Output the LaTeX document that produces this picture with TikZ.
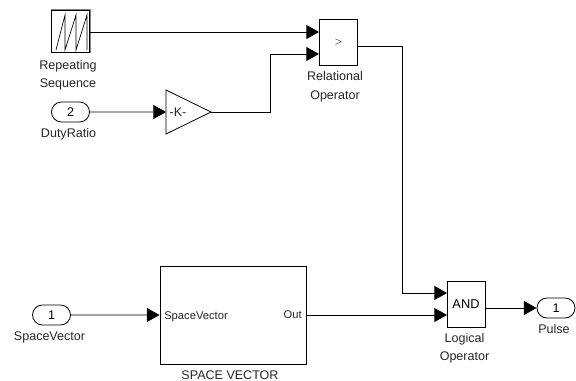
\documentclass[tikz,border=0pt]{standalone}
\usepackage{fontspec}
\setmainfont{Liberation Sans}
\usetikzlibrary{arrows.meta, calc, shapes.geometric, shapes.misc}
\tikzset{
  block/.style={draw, line width=.7pt, inner sep=0pt, fill=white},
  port/.style={draw, rounded rectangle, line width=.6pt, minimum width=28.5pt, minimum height=15pt, inner sep=0pt},
  label/.style={font=\fontsize{9.4}{13.5}\selectfont, align=center, text=black!85, inner sep=0pt},
  inner/.style={font=\fontsize{8.4}{10}\selectfont, text=black!85, inner sep=0pt},
  wire/.style={line width=.7pt, -{Triangle[length=9.5pt,width=10.5pt]}}
}
\begin{document}
\begin{tikzpicture}[x=.75pt, y=-.75pt]
  \useasboundingbox (0, 0) rectangle (576, 380);

  \node[block, minimum width=29pt, minimum height=32pt] (seq) at (70.5, 31.5) {};
  \draw[black!50, line width=.7pt] (seq.north west) -- (seq.north east) -- (seq.south east);
  \draw[line width=.5pt] (56, 50) -- (65, 15) -- (65, 50) -- (76, 15) -- (76, 50) -- (87, 15) -- (87, 50);
  \node[block, minimum width=29pt, minimum height=34pt] (rel) at (338.5, 42.5) {\fontsize{7}{8}\selectfont $>$};
  \node[block, minimum width=28.5pt, minimum height=34.5pt] (and) at (466, 304) {\fontsize{9.6}{10}\selectfont AND};
  \node[block, minimum width=109.5pt, minimum height=73.5pt] (space) at (233, 315) {};

  \coordinate (gainin) at (166, 112);
  \coordinate (gainout) at (211, 112);
  \draw[block, line width=.6pt] (166, 90) -- (gainout) -- (166, 134) -- cycle;
  \node[label] (gain) at (178, 112.5) {-K-};

  \node[port] (duty) at (70.5, 112) {\fontsize{9.4}{10}\selectfont 2};
  \node[port] (svin) at (51.5, 315) {\fontsize{9.4}{10}\selectfont 1};
  \node[port] (pulse) at (556, 308) {\fontsize{9.4}{10}\selectfont 1};

  \node[label] (seqlabel) at (68, 75) {Repeating\\Sequence};
  \node[label] at (68.5, 134) {DutyRatio};
  \node[label] at (335, 87) {Relational\\[1pt]Operator};
  \node[label] at (49.5, 337) {SpaceVector};
  \node[label] at (230, 375) {SPACE VECTOR};
  \node[label] at (464.5, 348) {Logical\\Operator};
  \node[label] at (554, 329) {Pulse};
  \node[inner, anchor=west] (svport) at (164, 317) {SpaceVector};
  \node[inner, anchor=east] (outport) at (302, 315) {Out};

  \coordinate (relup) at (319, 32);
  \coordinate (reldown) at (319, 54);
  \coordinate (andup) at (447, 293);
  \coordinate (anddown) at (447, 315);

  \draw[wire] (seq.east |- relup) -- (relup);
  \draw[wire] (gainout) -| (270, 54) -- (reldown);
  \draw[wire] (duty) -- (gainin);
  \draw[wire] (svin) -- (space.west |- svin);
  \draw[wire] (space.east |- anddown) -- (anddown);
  \draw[wire] (358, 46) -| (402, 293) -- (andup);
  \draw[wire] (and.east |- pulse) -- (pulse);
\end{tikzpicture}
\end{document}
